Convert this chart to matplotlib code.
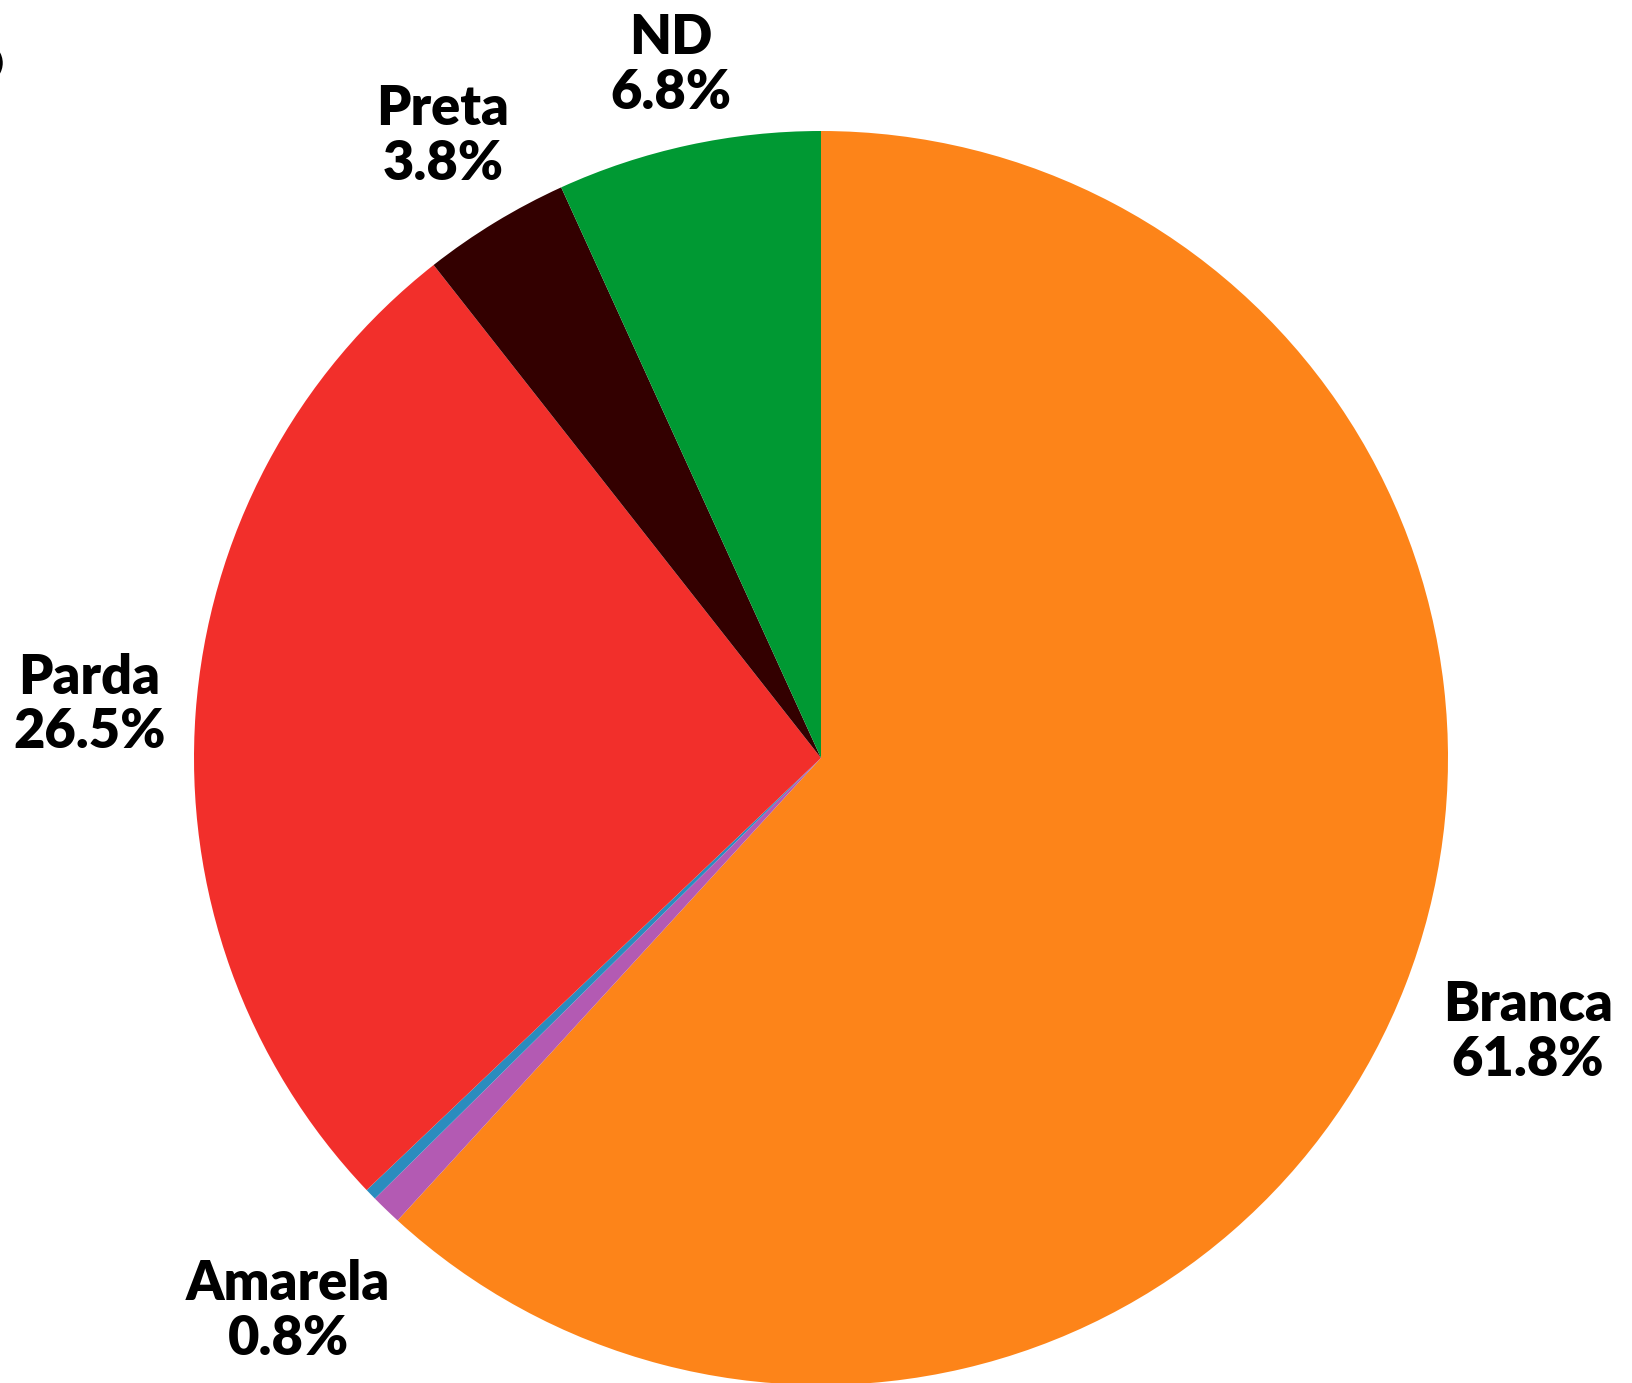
import matplotlib.pyplot as plt
from matplotlib.patches import Arc
import numpy as np

labels = ['Branca', 'Amarela', '', 'Parda', 'Preta', 'ND']
shares = [61.8, 0.8, 0.3, 26.5, 3.8, 6.8]
colors = ['#fd8419', '#b35ab3', '#2b8cbe', '#f22f2b', '#330000', '#009933']
# distance of each label from the centre, in pie radii
label_r = [1.21, 1.225, 1.2, 1.17, 1.16, 1.13]

fig = plt.figure(figsize=(16.32, 13.83), dpi=100)
ax = fig.add_axes([0, 0, 1, 1])

wedges, _ = ax.pie(shares, colors=colors, startangle=90, counterclock=False,
                   wedgeprops=dict(linewidth=0))

total = sum(shares)
for w, lab, val, r in zip(wedges, labels, shares, label_r):
    if not lab:
        continue
    ang = np.deg2rad((w.theta1 + w.theta2) / 2)
    ax.text(r * np.cos(ang), r * np.sin(ang), f'{lab}\n{val / total * 100:.1f}%',
            ha='center', va='center', fontsize=39, fontweight='heavy',
            family=['Lato', 'DejaVu Sans'], linespacing=1.12, color='black')

R = 627
ax.set_xlim(-821 / R, (1632 - 821) / R)
ax.set_ylim(-625 / R, (1383 - 625) / R)
ax.set_aspect('equal')
ax.axis('off')

# cut-off stroke at the top-left edge of the original image
fig.add_artist(Arc((-19, 1383 - 63), 40, 40, theta1=-70, theta2=70,
                   transform=None, color='black', linewidth=2.5))

fig.savefig('out.png', dpi=100)
